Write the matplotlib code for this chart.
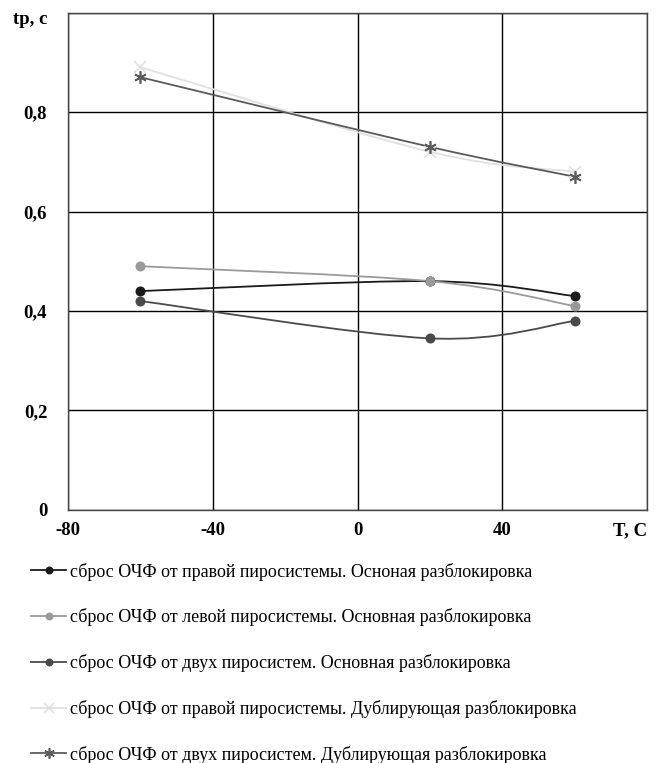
import matplotlib
matplotlib.use("Agg")
import matplotlib.pyplot as plt
import numpy as np
from matplotlib.path import Path
from matplotlib.patches import PathPatch
from matplotlib.lines import Line2D

temps = [-60, 20, 60]
s_right_basic = [0.44, 0.46, 0.43]
s_left_basic = [0.49, 0.46, 0.41]
s_two_basic = [0.42, 0.345, 0.38]
s_right_dup = [0.89, 0.72, 0.68]
s_two_dup = [0.87, 0.73, 0.67]

labels = [
    "сброс ОЧФ от правой пиросистемы. Осноная разблокировка",
    "сброс ОЧФ от левой пиросистемы. Основная разблокировка",
    "сброс ОЧФ от двух пиросистем. Основная разблокировка",
    "сброс ОЧФ от правой пиросистемы. Дублирующая разблокировка",
    "сброс ОЧФ от двух пиросистем. Дублирующая разблокировка",
]
xticks = [-80, -40, 0, 40, 80]
xticklabels = ["-80", "-40", "0", "40", "T, C"]
yticks = [0, 0.2, 0.4, 0.6, 0.8, 1.0]
yticklabels = ["0", "0,2", "0,4", "0,6", "0,8", ""]
y_title = "tp, c"

serif = ["Liberation Serif", "DejaVu Serif"]
plt.rcParams['font.family'] = serif

fig = plt.figure(figsize=(6.71, 7.63), dpi=100)
ax = fig.add_axes([0.1013, 0.3316, 0.8630, 0.652])
ax.set_xlim(-80, 80)
ax.set_ylim(0, 1.0)


def smooth_path(xs, ys):
    pts = np.column_stack([xs, ys]).astype(float)
    n = len(pts)
    verts = [pts[0]]
    codes = [Path.MOVETO]
    for i in range(n - 1):
        p0 = pts[i - 1] if i > 0 else pts[i]
        p1 = pts[i]
        p2 = pts[i + 1]
        p3 = pts[i + 2] if i + 2 < n else pts[i + 1]
        c1 = p1 + (p2 - p0) / 6.0
        c2 = p2 - (p3 - p1) / 6.0
        verts += [c1, c2, p2]
        codes += [Path.CURVE4] * 3
    return Path(verts, codes)


series = [
    (s_right_basic, "#1a1a1a", "o", 6, 1.3),
    (s_left_basic, "#9a9a9a", "o", 6, 1.3),
    (s_two_basic, "#4a4a4a", "o", 6, 1.3),
    (s_right_dup, "#e0e0e0", "x", 8, 1.3),
    (s_two_dup, "#5a5a5a", (6, 2, 0), 9, 1.3),
]

handles = []
for (vals, col, mk, ms, lw), lab in zip(series, labels):
    patch = PathPatch(smooth_path(temps, vals), facecolor="none", edgecolor=col,
                      lw=lw, zorder=3)
    ax.add_patch(patch)
    ax.plot(temps, vals, linestyle="none", marker=mk, color=col, ms=ms,
            markeredgewidth=1.2, zorder=4)
    handles.append(Line2D([], [], color=col, lw=lw, marker=mk, ms=ms - 1.5,
                          markeredgewidth=1.2))

ax.set_xticks(xticks)
ax.set_xticklabels(xticklabels, fontsize=13.5, fontweight="bold")
ax.set_yticks(yticks)
ax.set_yticklabels(yticklabels, fontsize=13.5, fontweight="bold")
ax.tick_params(axis="x", length=0, pad=9)
ax.tick_params(axis="y", length=0, pad=15)
ax.grid(True, color="black", lw=1.0)
ax.set_axisbelow(True)
for sp in ax.spines.values():
    sp.set_color("#444444")
    sp.set_linewidth(1.0)
ax.get_xticklabels()[-1].set_horizontalalignment("right")

ax.annotate(y_title, xy=(0, 1.0), xycoords="axes fraction",
            xytext=(-15, -5), textcoords="offset points",
            ha="right", va="center", fontsize=13.5, fontweight="bold")

fig.legend(handles, labels, loc="upper left", bbox_to_anchor=(0.033, 0.2745),
           frameon=False, fontsize=13, labelspacing=1.54, handlelength=1.95,
           handletextpad=0.2, borderpad=0)

fig.savefig("out.png", dpi=100)
